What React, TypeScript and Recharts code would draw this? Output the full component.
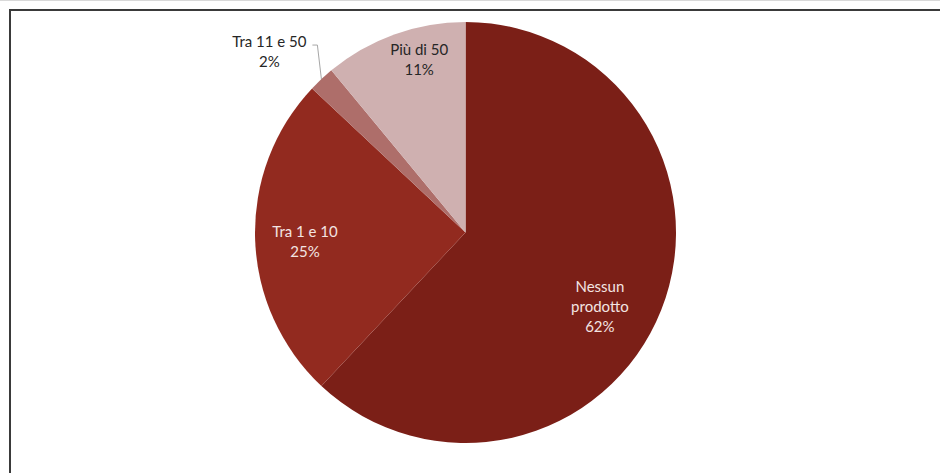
import React from 'react';
import { PieChart, Pie, Cell } from 'recharts';

const categories = ['Nessun prodotto', 'Tra 1 e 10', 'Tra 11 e 50', 'Più di 50'];
const values = [62, 25, 2, 11];
const percentLabels = ['62%', '25%', '2%', '11%'];
const colors = ['#7B1F17', '#922A1F', '#AE6E6A', '#CFB0B0'];

const data = categories.map((name, i) => ({ name, value: values[i], pct: percentLabels[i] }));

const RAD = Math.PI / 180;
const FONT = 'Lato, "Open Sans", sans-serif';
const FS = 15;

// label placement: radius factor and angle offset (deg, recharts convention)
const placement = [
  { rf: 0.73, da: -7.4, lines: ['Nessun', 'prodotto'], color: '#F3E4E2' },
  { rf: 0.764, da: 1.6, lines: ['Tra 1 e 10'], color: '#F3E4E2' },
  { rf: 0, da: 0, lines: ['Tra 11 e 50'], color: '#262626', outside: true },
  { rf: 0.85, da: -4.8, lines: ['Più di 50'], color: '#262626' },
];

const renderLabel = (props: any) => {
  const { cx, cy, midAngle, outerRadius, index, payload } = props;
  const p = placement[index];
  const lines = [...p.lines, payload.pct];
  if (p.outside) {
    const ex = cx + outerRadius * Math.cos(-midAngle * RAD);
    const ey = cy + outerRadius * Math.sin(-midAngle * RAD);
    const elbowX = ex - 4;
    const elbowY = ey - 34;
    const tx = elbowX - 48;
    const ty = elbowY - 3;
    return (
      <g>
        <polyline
          points={`${ex},${ey} ${elbowX},${elbowY} ${elbowX - 5},${elbowY}`}
          fill="none"
          stroke="#A6A6A6"
          strokeWidth={1}
        />
        {lines.map((l, i) => (
          <text key={i} x={tx} y={ty + i * 20 + 5} textAnchor="middle" fill={p.color} fontSize={FS} fontFamily={FONT}>
            {l}
          </text>
        ))}
      </g>
    );
  }
  const a = midAngle + p.da;
  const r = outerRadius * p.rf;
  const x = cx + r * Math.cos(-a * RAD);
  const y = cy + r * Math.sin(-a * RAD);
  const n = lines.length;
  return (
    <g>
      {lines.map((l, i) => (
        <text
          key={i}
          x={x}
          y={y + (i - (n - 1) / 2) * 20 + 5}
          textAnchor="middle"
          fill={p.color}
          fontSize={FS}
          fontFamily={FONT}
        >
          {l}
        </text>
      ))}
    </g>
  );
};

export default function App() {
  return (
    <div style={{ position: 'absolute', left: 0, top: 0, width: 940, height: 473, background: '#fff', overflow: 'hidden' }}>
      <div style={{ position: 'absolute', left: 0, top: 0, width: 940, height: 1, background: '#D9D9D9' }} />
      <div
        style={{
          position: 'absolute',
          left: 9,
          top: 9,
          width: 960,
          height: 500,
          borderLeft: '2px solid #3A3A3A',
          borderTop: '2px solid #3A3A3A',
        }}
      />
      <div style={{ position: 'absolute', left: 0, top: 0 }}>
        <PieChart width={940} height={473} margin={{ top: 0, right: 0, bottom: 0, left: 0 }}>
          <Pie
            data={data}
            dataKey="value"
            nameKey="name"
            cx={465.5}
            cy={232.5}
            outerRadius={210.5}
            startAngle={90}
            endAngle={-270}
            stroke="none"
            label={renderLabel}
            labelLine={false}
            isAnimationActive={false}
          >
            {data.map((d, i) => (
              <Cell key={d.name} fill={colors[i]} />
            ))}
          </Pie>
        </PieChart>
      </div>
    </div>
  );
}
